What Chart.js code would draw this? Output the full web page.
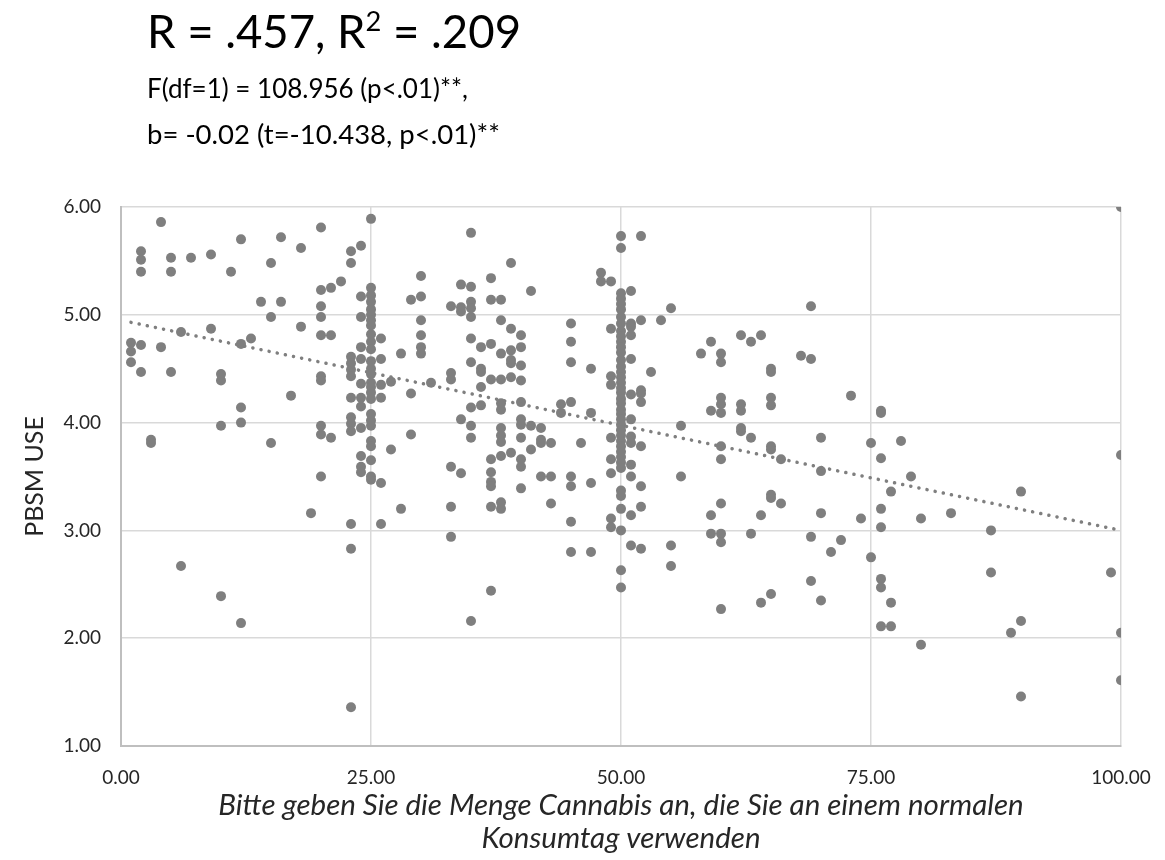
<!DOCTYPE html>
<html>
<head>
<meta charset="utf-8">
<script src="https://cdn.jsdelivr.net/npm/chart.js@4"></script>
<style>
  body { margin: 0; background: #fff; font-family: Lato, "Open Sans", sans-serif; }
  #wrap { position: relative; width: 1165px; height: 860px; }
  .stat { position: absolute; left: 147px; color: #000; white-space: nowrap; line-height: 1; }
  #r { top: 8px; font-size: 45.5px; }
  #r sup { font-size: 0.6em; vertical-align: 0.62em; line-height: 0; }
  #f { top: 75px; font-size: 26px; }
  #b { top: 120px; font-size: 27.5px; }
  canvas { position: absolute; left: 0; top: 0; }
</style>
</head>
<body>
<div id="wrap">
  <canvas id="chart" width="1165" height="860"></canvas>
  <div class="stat" id="r">R = .457, R<sup>2</sup> = .209</div>
  <div class="stat" id="f">F(df=1) = 108.956 (p&lt;.01)**,</div>
  <div class="stat" id="b">b= -0.02 (t=-10.438, p&lt;.01)**</div>
</div>
<script>
// amount of cannabis per day (x) and the PBSM scores observed at that amount
var amounts = [1, 2, 3, 4, 5, 6, 7, 9, 10, 11, 12, 13, 14, 15, 16, 17, 18, 19, 20,
  21, 22, 23, 24, 25, 26, 27, 28, 29, 30, 31, 33, 34, 35, 36, 37, 38, 39, 40,
  41, 42, 43, 44, 45, 46, 47, 48, 49, 50, 51, 52, 53, 54, 55, 56, 58, 59, 60,
  62, 63, 64, 65, 66, 68, 69, 70, 71, 72, 73, 74, 75, 76, 77, 78, 79, 80, 83,
  87, 89, 90, 99, 100];

var pbsmByAmount = [
  [4.74, 4.66, 4.56],
  [5.59, 5.51, 5.40, 4.72, 4.47],
  [3.84, 3.81],
  [5.86, 4.70],
  [5.53, 5.40, 4.47],
  [4.84, 2.67],
  [5.53],
  [5.56, 4.87],
  [4.45, 4.39, 3.97, 2.39],
  [5.40],
  [5.70, 4.73, 4.14, 4.00, 2.14],
  [4.78],
  [5.12],
  [5.48, 4.98, 3.81],
  [5.72, 5.12],
  [4.25],
  [5.62, 4.89],
  [3.16],
  [5.81, 5.23, 5.08, 4.98, 4.81, 4.43, 4.39, 3.97, 3.89, 3.50],
  [5.25, 4.81, 3.86],
  [5.31],
  [5.59, 5.48, 4.61, 4.55, 4.49, 4.43, 4.23, 4.05, 3.99, 3.92, 3.06, 2.83, 1.36],
  [5.64, 5.17, 4.98, 4.70, 4.59, 4.36, 4.23, 4.15, 3.95, 3.69, 3.59, 3.54],
  [5.89, 5.25, 5.18, 5.12, 5.05, 5.00, 4.95, 4.90, 4.82, 4.75, 4.68, 4.57, 4.50,
   4.45, 4.37, 4.33, 4.28, 4.22, 4.08, 4.02, 3.97, 3.83, 3.78, 3.65, 3.50, 3.47],
  [4.78, 4.59, 4.35, 4.23, 3.44, 3.06],
  [4.38, 3.75],
  [4.64, 3.20],
  [5.14, 4.27, 3.89],
  [5.36, 5.17, 4.95, 4.81, 4.70, 4.64],
  [4.37],
  [5.08, 4.46, 4.40, 3.59, 3.22, 2.94],
  [5.28, 5.07, 5.03, 4.03, 3.53],
  [5.76, 5.26, 5.12, 5.06, 4.98, 4.78, 4.56, 4.14, 3.97, 3.86, 2.16],
  [4.70, 4.50, 4.47, 4.33, 4.16],
  [5.34, 5.14, 4.73, 4.40, 3.66, 3.54, 3.45, 3.41, 3.22, 2.44],
  [5.14, 4.95, 4.64, 4.40, 4.18, 4.12, 3.95, 3.88, 3.82, 3.69, 3.26, 3.20],
  [5.48, 4.87, 4.67, 4.58, 4.55, 4.42, 3.72],
  [4.81, 4.70, 4.53, 4.39, 4.19, 4.03, 3.98, 3.86, 3.66, 3.59, 3.39],
  [5.22, 3.97, 3.75],
  [3.95, 3.84, 3.81, 3.50],
  [3.81, 3.50, 3.25],
  [4.17, 4.09],
  [4.92, 4.75, 4.56, 4.19, 3.50, 3.41, 3.08, 2.80],
  [3.81],
  [4.50, 4.09, 3.44, 2.80],
  [5.39, 5.31],
  [5.31, 4.87, 4.43, 4.35, 3.86, 3.66, 3.53, 3.11, 3.03],
  [5.73, 5.62, 5.20, 5.15, 5.10, 5.05, 4.98, 4.92, 4.85, 4.80, 4.75, 4.70, 4.65,
   4.58, 4.52, 4.47, 4.42, 4.37, 4.32, 4.28, 4.22, 4.18, 4.12, 4.08, 4.03, 3.98,
   3.93, 3.88, 3.83, 3.78, 3.73, 3.68, 3.63, 3.58, 3.37, 3.32, 3.20, 3.00, 2.63, 2.47],
  [5.22, 4.92, 4.89, 4.81, 4.59, 4.26, 4.03, 3.87, 3.81, 3.61, 3.50, 3.14, 2.86],
  [5.73, 4.95, 4.30, 4.27, 4.19, 3.78, 3.41, 3.22, 2.83],
  [4.47],
  [4.95],
  [5.06, 2.86, 2.67],
  [3.97, 3.50],
  [4.64],
  [4.75, 4.11, 3.14, 2.97],
  [4.64, 4.56, 4.23, 4.17, 4.09, 3.78, 3.66, 3.25, 2.97, 2.89, 2.27],
  [4.81, 4.17, 4.11, 3.95, 3.92],
  [4.75, 3.86, 2.97],
  [4.81, 3.14, 2.33],
  [4.50, 4.47, 4.23, 4.16, 3.78, 3.75, 3.33, 3.30, 2.41],
  [3.66, 3.25],
  [4.62],
  [5.08, 4.59, 2.94, 2.53],
  [3.86, 3.55, 3.16, 2.35],
  [2.80],
  [2.91],
  [4.25],
  [3.11],
  [3.81, 2.75],
  [4.11, 4.09, 3.67, 3.20, 3.03, 2.55, 2.47, 2.11],
  [3.36, 2.33, 2.11],
  [3.83],
  [3.50],
  [3.11, 1.94],
  [3.16],
  [3.00, 2.61],
  [2.05],
  [3.36, 2.16, 1.46],
  [2.61],
  [6.00, 3.70, 2.05, 1.61]
];

// linear trend (b = -0.02) over the observed range
var trendAmounts = [1, 100];
var trendPbsm = [4.93, 3.00];

var xTitle = ['Bitte geben Sie die Menge Cannabis an, die Sie an einem normalen', 'Konsumtag verwenden'];
var yTitle = 'PBSM USE';

var points = [];
for (var i = 0; i < amounts.length; i++) {
  pbsmByAmount[i].forEach(function (v) { points.push({x: amounts[i], y: v}); });
}
var trend = trendAmounts.map(function (a, i) { return {x: a, y: trendPbsm[i]}; });

var fontFamily = 'Lato, "Open Sans", sans-serif';
var tickFont = {family: fontFamily, size: 19};
var grey = '#7f7f7f';

var chart = new Chart(document.getElementById('chart'), {
  type: 'scatter',
  data: {
    datasets: [{
      type: 'line',
      label: 'Trend',
      data: trend,
      showLine: true,
      borderColor: grey,
      borderWidth: 3.5,
      borderDash: [0.1, 8.2],
      borderCapStyle: 'round',
      pointRadius: 0,
      fill: false
    }, {
      label: yTitle,
      data: points,
      backgroundColor: grey,
      borderWidth: 0,
      pointRadius: 5,
      pointHoverRadius: 5
    }]
  },
  options: {
    responsive: false,
    animation: false,
    layout: {padding: {left: 0, right: 44, top: 207, bottom: 0}},
    plugins: {legend: {display: false}, tooltip: {enabled: false}},
    scales: {
      x: {
        type: 'linear', min: 0, max: 100,
        afterFit: function (s) {
          s.height = 114;
          s.paddingLeft = 0;
          s.paddingRight = 0;
        },
        ticks: {stepSize: 25, padding: 20, color: '#262626', font: tickFont, maxRotation: 0,
          callback: function (v) { return v.toFixed(2); }},
        grid: {color: '#d9d9d9', lineWidth: 1.5, drawTicks: false},
        border: {color: '#bfbfbf', width: 2},
        title: {display: true, text: xTitle, color: '#262626', padding: {top: 0, bottom: 5},
          font: {family: fontFamily, size: 29.5, style: 'italic', lineHeight: '33px'}}
      },
      y: {
        min: 1, max: 6,
        afterFit: function (s) { s.width = 121; },
        ticks: {stepSize: 1, padding: 20, color: '#262626', font: tickFont,
          callback: function (v) { return v.toFixed(2); }},
        grid: {color: '#d9d9d9', lineWidth: 1.5, drawTicks: false},
        border: {color: '#bfbfbf', width: 2},
        title: {display: true, text: yTitle, color: '#262626', padding: {top: 20, bottom: 0},
          font: {family: fontFamily, size: 25}}
      }
    }
  }
});
</script>
</body>
</html>
